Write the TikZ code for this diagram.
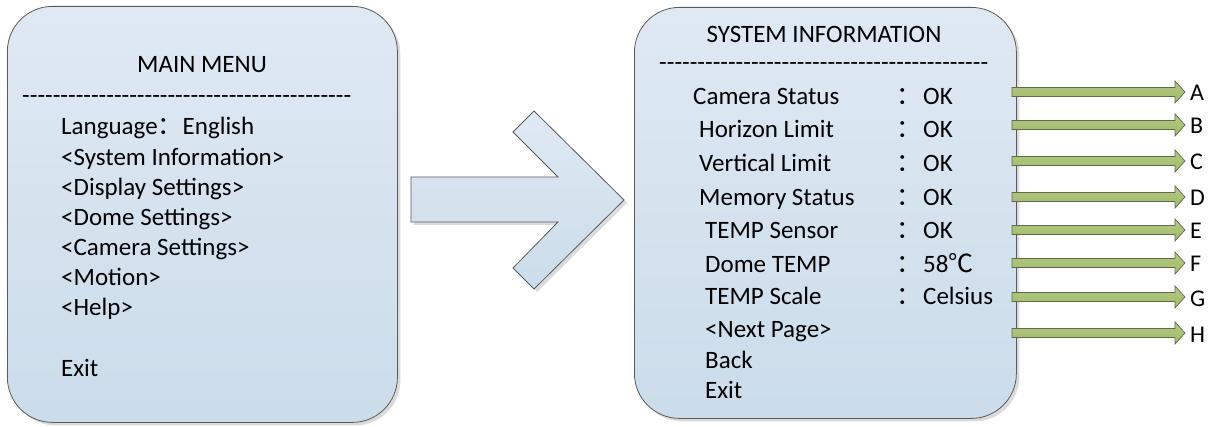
\documentclass[tikz,border=0pt]{standalone}
\usepackage{fontspec}
\setmainfont{Carlito}
\newfontfamily\dashfont{Carlito}
\newfontfamily\cjk{Noto Sans CJK SC}
\usetikzlibrary{shadows,calc}
\definecolor{boxtop}{RGB}{223,233,243}
\definecolor{boxbot}{RGB}{203,220,234}
\definecolor{edgegray}{RGB}{90,90,90}
\definecolor{greentop}{RGB}{178,200,132}
\definecolor{greenbot}{RGB}{160,188,104}
\definecolor{greenedge}{RGB}{95,105,75}
\begin{document}
\begin{tikzpicture}[x=1pt,y=-1pt,
  menubox/.style={draw=edgegray, line width=0.8pt, rounded corners=45pt,
    top color=boxtop, bottom color=boxbot, inner sep=0pt,
    drop shadow={shadow xshift=3pt, shadow yshift=-3pt, fill=black!14, opacity=1}},
  bigarrow/.style={draw=edgegray, line width=0.8pt, top color=boxtop, bottom color=boxbot,
    drop shadow={shadow xshift=3pt, shadow yshift=-3pt, fill=black!14, opacity=1}},
  greenarrow/.style={draw=greenedge, line width=0.7pt, top color=greentop, bottom color=greenbot},
  txt/.style={anchor=base west, inner sep=0pt, font=\fontsize{25}{30}\selectfont},
  ctxt/.style={anchor=base, inner sep=0pt, font=\fontsize{25}{30}\selectfont},
  dtxt/.style={anchor=base west, inner sep=0pt, font=\dashfont\fontsize{25}{30}\selectfont},
  lbl/.style={anchor=base west, inner sep=0pt, font=\fontsize{24}{28}\selectfont}
]
\useasboundingbox (0,0) rectangle (1214,427);

% boxes
\node[menubox, anchor=north west, minimum width=390pt, minimum height=416pt] (main) at (7,6) {};
\node[menubox, anchor=north west, minimum width=382pt, minimum height=411pt] (sysinfo) at (634,7) {};

% big arrow
\path[bigarrow] (411,177) -- (558,177) -- (513,132) -- (534,111) -- (624,200)
  -- (534,289) -- (513,268) -- (558,222) -- (411,222) -- cycle;

% main menu text
\node[ctxt] (mmtitle) at (202,73) {MAIN MENU};
\node[dtxt] (mmdash) at (22,104) {-------------------------------------------};
\node[txt] (mlang) at (61,135) {Language{\cjk ：}English};
\node[txt] (msys) at (61,166) {<System Information>};
\node[txt] (mdisp) at (61,196) {<Display Settings>};
\node[txt] (mdome) at (61,226) {<Dome Settings>};
\node[txt] (mcam) at (61,256) {<Camera Settings>};
\node[txt] (mmot) at (61,286) {<Motion>};
\node[txt] (mhelp) at (61,316) {<Help>};
\node[txt] (mexit) at (61,376) {Exit};

% system information text
\node[ctxt] (sititle) at (824,43) {SYSTEM INFORMATION};
\node[dtxt] (sidash) at (659,71) {-------------------------------------------};
\node[txt] (r1) at (693,105) {Camera Status};
\node[txt] (r2) at (699,138) {Horizon Limit};
\node[txt] (r3) at (699,172) {Vertical Limit};
\node[txt] (r4) at (699,206) {Memory Status};
\node[txt] (r5) at (705,239) {TEMP Sensor};
\node[txt] (r6) at (705,273) {Dome TEMP};
\node[txt] (r7) at (705,305) {TEMP Scale};
\node[txt] (r8) at (705,337) {<Next Page>};
\node[txt] (r9) at (705,368) {Back};
\node[txt] (r10) at (705,398) {Exit};
\foreach \y/\v [count=\i] in {105/OK,138/OK,172/OK,206/OK,239/OK,273/{58{\cjk ℃}},305/Celsius}{
  \node[txt] (c\i) at (896,\y) {\cjk ：};
  \node[txt] (v\i) at (923,\y) {\v};
}

% green arrows and letters
\foreach \y/\l in {92/A,125/B,161/C,197/D,230/E,263/F,297/G,333/H}{
  \coordinate (s\l) at (1012,\y);
  \node[lbl] (l\l) at (1190,\y+9) {\l};
  \path[greenarrow] ($(s\l)+(0,-4.5)$) -- (1175,\y-4.5) -- (1175,\y-11) -- (1185,\y)
    -- (1175,\y+11) -- (1175,\y+4.5) -- ($(s\l)+(0,4.5)$) -- cycle;
}
\end{tikzpicture}
\end{document}
